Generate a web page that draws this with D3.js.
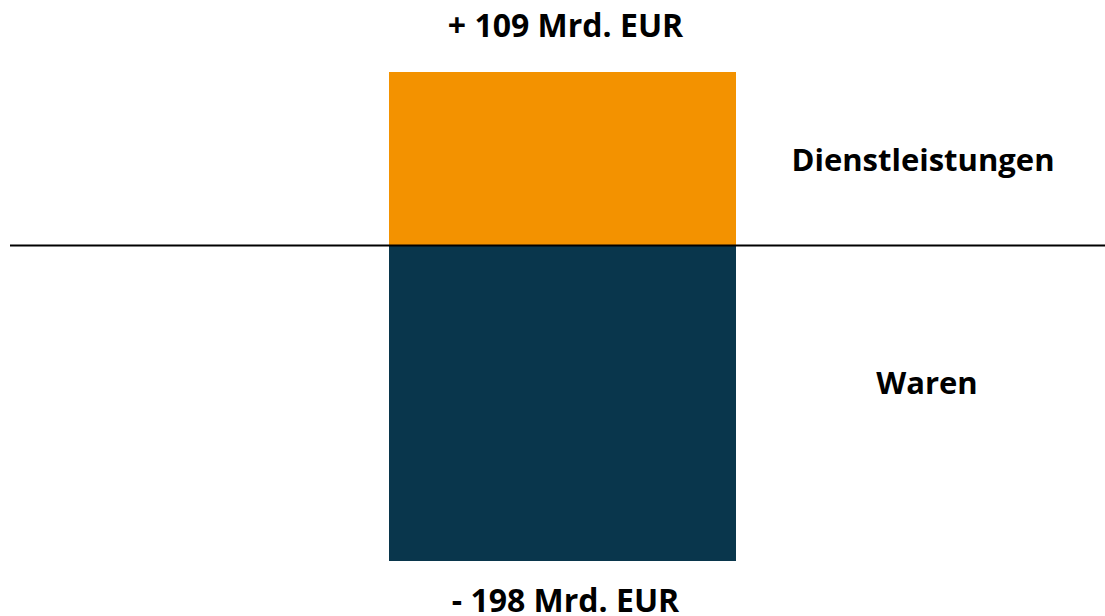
<!DOCTYPE html>
<html>
<head>
<meta charset="utf-8">
<script src="https://cdn.jsdelivr.net/npm/d3@7"></script>
<style>
  body { margin: 0; background: #fff; }
  svg text { font-family: "Open Sans", sans-serif; font-weight: bold; fill: #000; }
</style>
</head>
<body>
<div id="chart"></div>
<script>
// data
var categories = ["Dienstleistungen", "Waren"];
var values = [109, -198];
var valueLabels = ["+ 109 Mrd. EUR", "- 198 Mrd. EUR"];
var colors = ["#f39200", "#09364c"];

var width = 1105, height = 616;

var svg = d3.select("#chart")
    .append("svg")
    .attr("width", width)
    .attr("height", height);

// one stacked column, positive part up, negative down
var x = d3.scaleBand()
    .domain(["bilanz"])
    .range([389, 736]);

var y = d3.scaleLinear()
    .domain([d3.min(values), d3.max(values)])
    .range([561, 72]);

svg.selectAll("rect")
    .data(values)
    .enter()
    .append("rect")
    .attr("x", x("bilanz"))
    .attr("width", x.bandwidth())
    .attr("y", function(d) { return d > 0 ? y(d) : y(0); })
    .attr("height", function(d) { return Math.abs(y(d) - y(0)); })
    .attr("fill", function(d, i) { return colors[i]; });

// zero line
svg.append("line")
    .attr("x1", 10)
    .attr("x2", width)
    .attr("y1", y(0))
    .attr("y2", y(0))
    .attr("stroke", "#000")
    .attr("stroke-width", 2);

// value labels above / below the column
svg.selectAll("text.value")
    .data(values)
    .enter()
    .append("text")
    .attr("class", "value")
    .attr("text-anchor", "middle")
    .attr("font-size", 32)
    .attr("x", x("bilanz") + x.bandwidth() / 2 + 3)
    .attr("y", function(d) { return d > 0 ? y(d) - 35 : y(d) + 51; })
    .text(function(d, i) { return valueLabels[i]; });

// category labels to the right, centred on each part
svg.selectAll("text.cat")
    .data(values)
    .enter()
    .append("text")
    .attr("class", "cat")
    .attr("text-anchor", "middle")
    .attr("font-size", 31)
    .attr("x", function(d, i) { return i === 0 ? 923 : 927; })
    .attr("y", function(d) { return d > 0 ? y(0) - 75 : y(0) + 148; })
    .text(function(d, i) { return categories[i]; });
</script>
</body>
</html>
